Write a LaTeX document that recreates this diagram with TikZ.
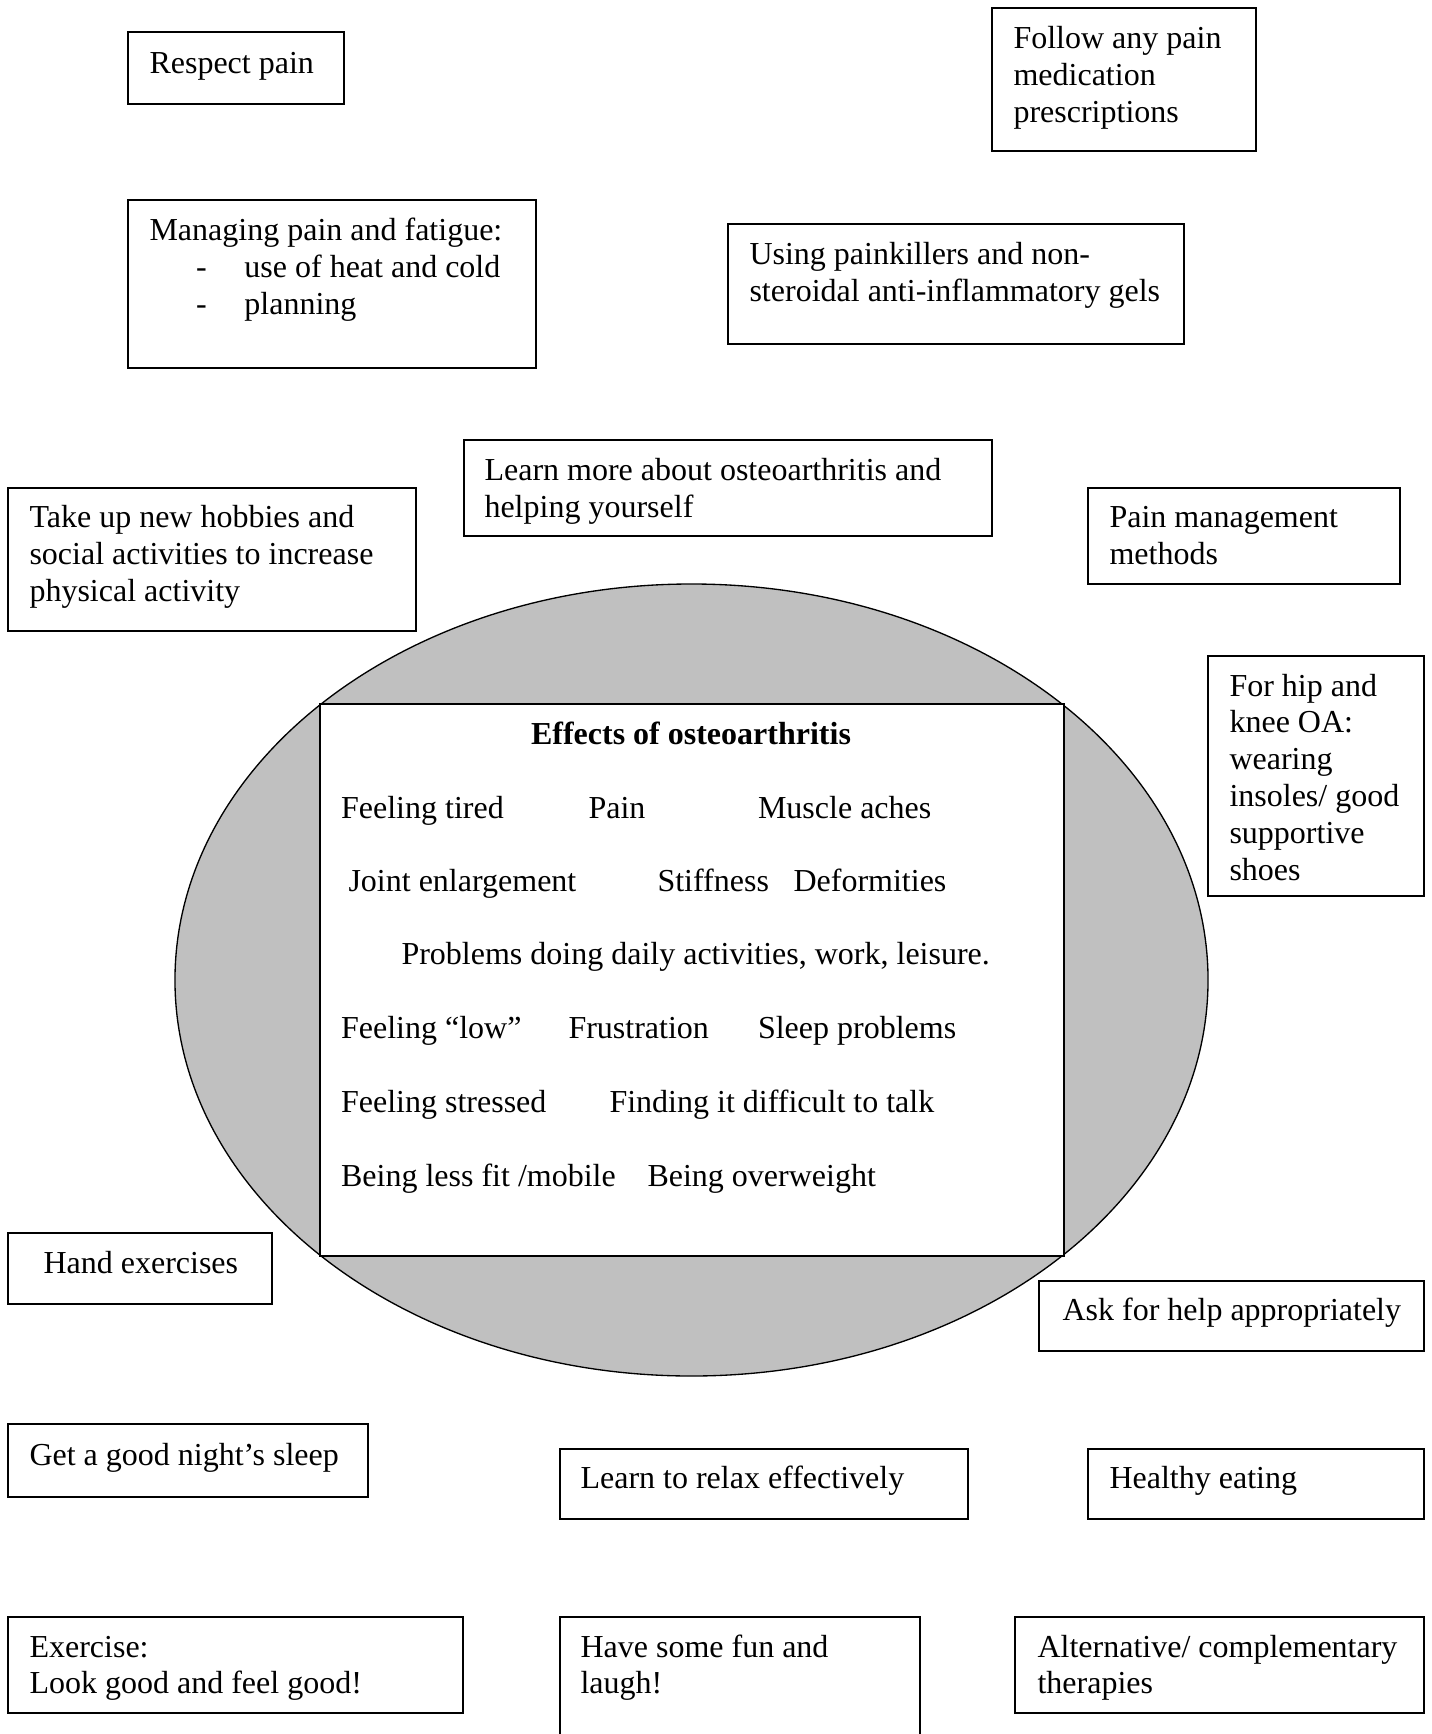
\documentclass[tikz,border=0pt]{standalone}
\usepackage{fontspec}
\setmainfont{Liberation Serif}
\usetikzlibrary{fit,shapes.geometric}
\definecolor{shade}{RGB}{192,192,192}
\begin{document}
\begin{tikzpicture}[x=0.375pt,y=-0.375pt,
  box/.style={draw=black, line width=0.6pt, inner sep=0pt, rectangle},
  txt/.style={anchor=north west, inner sep=0pt, align=left, font=\fontsize{12}{13.8}\selectfont},
  eff/.style={anchor=base west, inner sep=0pt, font=\fontsize{12}{13.8}\selectfont}]
\useasboundingbox (0,0) rectangle (1432,1734);
\fill[white] (0,0) rectangle (1432,1734);

% central oval and effects box
\node[ellipse, draw=black, line width=0.5pt, fill=shade, minimum width=387.4pt, minimum height=297pt, inner sep=0pt] (oval) at (691.5,980) {};
\node[box, fill=white, fit={(320,704) (1064,1256)}] (effects) {};
\node[anchor=base, inner sep=0pt, font=\fontsize{12}{13.8}\selectfont\bfseries] (title) at (691,744) {Effects of osteoarthritis};
\node[eff] (e11) at (340.6,818) {Feeling tired};
\node[eff] (e12) at (588,818) {Pain};
\node[eff] (e13) at (757.5,818) {Muscle aches};
\node[eff] (e21) at (348,891) {Joint enlargement};
\node[eff] (e22) at (657,891) {Stiffness};
\node[eff] (e23) at (793,891) {Deformities};
\node[eff] (e31) at (401,964) {Problems doing daily activities, work, leisure.};
\node[eff] (e41) at (340.6,1038) {Feeling “low”};
\node[eff] (e42) at (568,1038) {Frustration};
\node[eff] (e43) at (757.5,1038) {Sleep problems};
\node[eff] (e51) at (340.6,1112.5) {Feeling stressed};
\node[eff] (e52) at (609,1112.5) {Finding it difficult to talk};
\node[eff] (e61) at (340.6,1186.6) {Being less fit /mobile};
\node[eff] (e62) at (647,1186.6) {Being overweight};

% surrounding boxes
\node[box, fit={(128,32) (344,104)}] (b1) {};
\node[txt] (t1) at (149,47.2) {\strut Respect pain};

\node[box, fit={(992,8) (1256,151)}] (b2) {};
\node[txt] (t2) at (1013,22.2) {\strut Follow any pain\\medication\\prescriptions};

\node[box, fit={(128,200) (536,368)}] (b3) {};
\node[txt] (t3) at (149,214.2) {\strut Managing pain and fatigue:\\
  \hspace*{17.5pt}\makebox[18.1pt][l]{-}use of heat and cold\\
  \hspace*{17.5pt}\makebox[18.1pt][l]{-}planning};

\node[box, fit={(728,224) (1184,344)}] (b4) {};
\node[txt] (t4) at (749,238.2) {\strut Using painkillers and non-\\steroidal anti-inflammatory gels};

\node[box, fit={(464,440) (992,536)}] (b5) {};
\node[txt] (t5) at (484,454.2) {\strut Learn more about osteoarthritis and\\helping yourself};

\node[box, fit={(8,488) (416,631)}] (b6) {};
\node[txt] (t6) at (29,501.7) {\strut Take up new hobbies and\\social activities to increase\\physical activity};

\node[box, fit={(1088,488) (1400,584)}] (b7) {};
\node[txt] (t7) at (1109,501.7) {\strut Pain management\\methods};

\node[box, fit={(1208,656) (1424,896)}] (b8) {};
\node[txt] (t8) at (1229,669.8) {\strut For hip and\\knee OA:\\wearing\\insoles/ good\\supportive\\shoes};

\node[box, fit={(8,1233) (272,1304)}] (b9) {};
\node[txt] (t9) at (43,1247.2) {\strut Hand exercises};

\node[box, fit={(1039,1281) (1424,1351)}] (b10) {};
\node[txt] (t10) at (1062,1294.2) {\strut Ask for help appropriately};

\node[box, fit={(8,1424) (368,1497)}] (b11) {};
\node[txt] (t11) at (29,1439.2) {\strut Get a good night’s sleep};

\node[box, fit={(560,1449) (968,1519)}] (b12) {};
\node[txt] (t12) at (580,1462.2) {\strut Learn to relax effectively};

\node[box, fit={(1088,1449) (1424,1519)}] (b13) {};
\node[txt] (t13) at (1109,1462.2) {\strut Healthy eating};

\node[box, fit={(8,1617) (463,1713)}] (b14) {};
\node[txt] (t14) at (29,1630.7) {\strut Exercise:\\Look good and feel good!};

\node[box, fit={(560,1617) (920,1750)}] (b15) {};
\node[txt] (t15) at (580,1630.7) {\strut Have some fun and\\laugh!};

\node[box, fit={(1015,1617) (1424,1713)}] (b16) {};
\node[txt] (t16) at (1037,1630.7) {\strut Alternative/ complementary\\therapies};
\end{tikzpicture}
\end{document}
